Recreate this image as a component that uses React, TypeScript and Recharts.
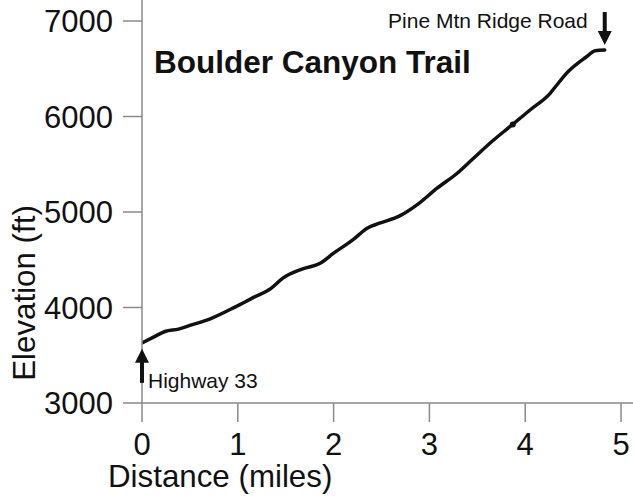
import React from 'react';
import { LineChart, Line, XAxis, YAxis, ReferenceDot, Customized } from 'recharts';

const distance = [0, 0.12, 0.24, 0.38, 0.5, 0.73, 0.97, 1.15, 1.35, 1.47, 1.67, 1.86, 2.0, 2.2, 2.35, 2.48, 2.69, 2.87, 3.08, 3.29, 3.46, 3.67, 3.84, 4.05, 4.26, 4.33, 4.43, 4.64, 4.73, 4.83];
const elevation = [3630, 3690, 3749, 3774, 3812, 3889, 4004, 4098, 4203, 4307, 4402, 4464, 4569, 4708, 4830, 4883, 4959, 5074, 5249, 5406, 5563, 5754, 5893, 6068, 6243, 6330, 6452, 6626, 6689, 6696];
const xTicks = [0, 1, 2, 3, 4, 5];
const yTicks = [3000, 4000, 5000, 6000, 7000];
const title = 'Boulder Canyon Trail';
const startLabel = 'Highway 33';
const endLabel = 'Pine Mtn Ridge Road';
const xLabel = 'Distance (miles)';
const yLabel = 'Elevation (ft)';

const data = distance.map((d, i) => ({ d, e: elevation[i] }));
const startPt = data[0];
const endPt = data[data.length - 1];

const FONT = '"Liberation Sans", Arial, sans-serif';
const AXIS = '#8a8a8a';

const StartMark = (p: any) => {
  const { cx, cy } = p;
  return (
    <g>
      <line x1={cx} y1={cy + 16} x2={cx} y2={cy + 40} stroke="#111" strokeWidth={4} />
      <polygon points={`${cx},${cy + 6} ${cx - 7},${cy + 20} ${cx + 7},${cy + 20}`} fill="#111" />
      <text x={cx + 6} y={cy + 45} fontSize={21} fontFamily={FONT} fill="#111">{startLabel}</text>
    </g>
  );
};

const EndMark = (p: any) => {
  const { cx, cy } = p;
  return (
    <g>
      <line x1={cx} y1={cy - 38} x2={cx} y2={cy - 14} stroke="#111" strokeWidth={4} />
      <polygon points={`${cx},${cy - 5} ${cx - 7},${cy - 19} ${cx + 7},${cy - 19}`} fill="#111" />
      <text x={cx - 17} y={cy - 22} fontSize={21} fontFamily={FONT} fill="#111" textAnchor="end">{endLabel}</text>
    </g>
  );
};

const Texts = () => (
  <g fontFamily={FONT} fill="#111">
    <text x={154} y={73} fontSize={31.5} fontWeight="bold">{title}</text>
    <text x={108} y={487} fontSize={31.3}>{xLabel}</text>
    <text x={0} y={0} fontSize={31.3} textAnchor="middle" transform="translate(35,293) rotate(-90)">{yLabel}</text>
  </g>
);

export default function App() {
  return (
    <div style={{ position: 'absolute', left: 0, top: 0, background: '#fff' }}>
      <LineChart width={633} height={497} data={data} margin={{ top: 0, right: 0, left: 0, bottom: 0 }}>
        <XAxis
          dataKey="d"
          type="number"
          domain={[0, 5.125]}
          ticks={xTicks}
          allowDataOverflow
          height={94}
          stroke={AXIS}
          strokeWidth={1.5}
          tickSize={19}
          tickMargin={11}
          tick={{ fontSize: 31, fontFamily: FONT, fill: '#111' }}
          tickLine={{ stroke: AXIS, strokeWidth: 1.5 }}
        />
        <YAxis
          dataKey="e"
          type="number"
          domain={[3000, 7220]}
          ticks={yTicks}
          allowDataOverflow
          width={142}
          stroke={AXIS}
          strokeWidth={1.5}
          tickSize={19}
          tickMargin={10}
          tick={{ fontSize: 31, fontFamily: FONT, fill: '#111' }}
          tickLine={{ stroke: AXIS, strokeWidth: 1.5 }}
        />
        <Line
          type="monotone"
          dataKey="e"
          stroke="#111"
          strokeWidth={3.5}
          dot={false}
          isAnimationActive={false}
          strokeLinecap="round"
        />
        <ReferenceDot x={3.87} y={5915} r={3} fill="#111" stroke="none" />
        <ReferenceDot x={startPt.d} y={startPt.e} shape={StartMark} ifOverflow="visible" />
        <ReferenceDot x={endPt.d} y={endPt.e} shape={EndMark} ifOverflow="visible" />
        <Customized component={Texts} />
      </LineChart>
    </div>
  );
}
